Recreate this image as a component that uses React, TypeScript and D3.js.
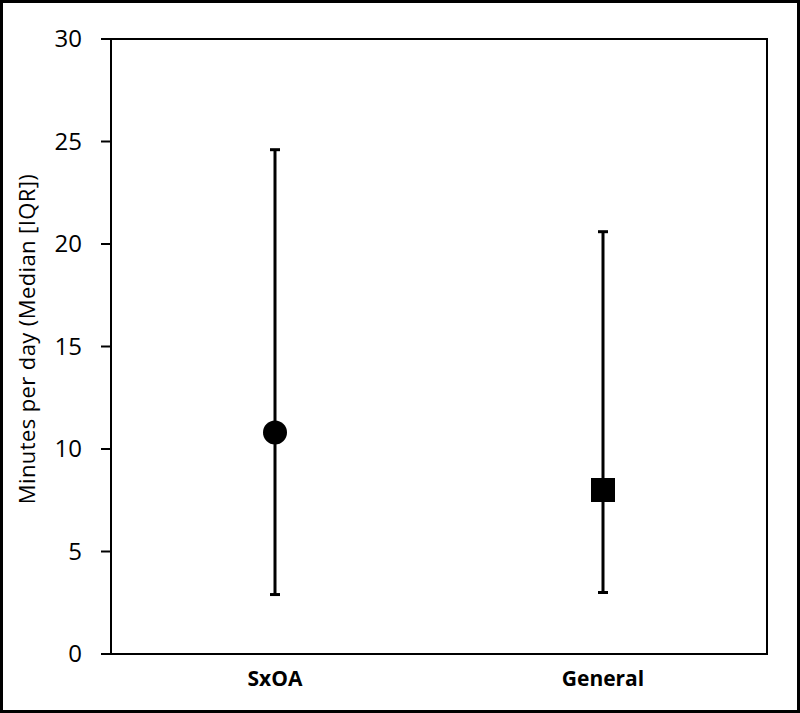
import { useMemo } from "react";
import { scaleLinear, scalePoint, range } from "d3";

// values
const groups = ["SxOA", "General"];
const medians = [10.8, 8.0];
const lowerQ = [2.9, 3.0];
const upperQ = [24.6, 20.6];
const yTicks = range(0, 31, 5);
const yAxisLabel = "Minutes per day (Median [IQR])";

const width = 800;
const height = 713;
const margin = { top: 39, right: 33, bottom: 59, left: 111 };
const font = "'Open Sans', 'DejaVu Sans', sans-serif";

export default function App() {
  const innerWidth = width - margin.left - margin.right;
  const innerHeight = height - margin.top - margin.bottom;

  const xScale = useMemo(
    () => scalePoint().domain(groups).range([0, innerWidth]).padding(0.5),
    [innerWidth]
  );
  const yScale = useMemo(
    () => scaleLinear().domain([0, 30]).range([innerHeight, 0]),
    [innerHeight]
  );

  const capHalf = 5;
  const markerSize = 24;

  return (
    <svg
      width={width}
      height={height}
      style={{ position: "absolute", left: 0, top: 0, background: "#fff" }}
      fontFamily={font}
    >
      <rect x={1.5} y={1.5} width={797} height={710} fill="#fff" stroke="#000" strokeWidth={3} />
      <g transform={`translate(${margin.left},${margin.top})`}>
        {/* plot frame */}
        <rect x={0} y={0} width={innerWidth} height={innerHeight} fill="none" stroke="#000" strokeWidth={2} />

        {/* y axis ticks */}
        {yTicks.map((t) => (
          <g key={t} transform={`translate(0,${yScale(t)})`}>
            <line x1={-10} x2={0} stroke="#000" strokeWidth={2} />
            <text x={-29} dy="0.35em" textAnchor="end" fontSize={24} fill="#000">
              {t}
            </text>
          </g>
        ))}

        {/* x labels */}
        {groups.map((g) => (
          <text
            key={g}
            x={xScale(g)}
            y={innerHeight + 32}
            textAnchor="middle"
            fontSize={21}
            fontWeight="bold"
            fill="#000"
          >
            {g}
          </text>
        ))}

        {/* error bars and medians */}
        {groups.map((g, i) => {
          const cx = xScale(g) as number;
          const yLo = yScale(lowerQ[i]);
          const yHi = yScale(upperQ[i]);
          const yMed = yScale(medians[i]);
          return (
            <g key={g}>
              <line x1={cx} x2={cx} y1={yLo} y2={yHi} stroke="#000" strokeWidth={3} />
              <line x1={cx - capHalf} x2={cx + capHalf} y1={yHi} y2={yHi} stroke="#000" strokeWidth={3} />
              <line x1={cx - capHalf} x2={cx + capHalf} y1={yLo} y2={yLo} stroke="#000" strokeWidth={3} />
              {i === 0 ? (
                <circle cx={cx} cy={yMed} r={markerSize / 2} fill="#000" />
              ) : (
                <rect
                  x={cx - markerSize / 2}
                  y={yMed - markerSize / 2}
                  width={markerSize}
                  height={markerSize}
                  fill="#000"
                />
              )}
            </g>
          );
        })}
      </g>

      {/* y axis title */}
      <text
        transform={`translate(35,339) rotate(-90)`}
        textAnchor="middle"
        fontSize={22}
        letterSpacing={0.4}
        fill="#000"
      >
        {yAxisLabel}
      </text>
    </svg>
  );
}
